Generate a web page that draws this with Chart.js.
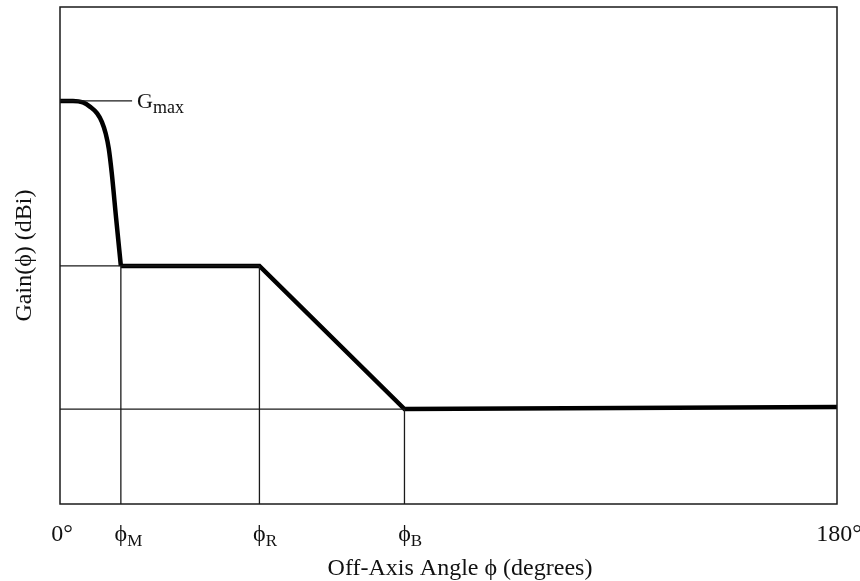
<!DOCTYPE html>
<html>
<head>
<meta charset="utf-8">
<script src="https://cdn.jsdelivr.net/npm/chart.js@4.4.1/dist/chart.umd.min.js"></script>
<style>
  html, body { margin: 0; padding: 0; background: #fff; }
  #wrap { width: 860px; height: 581px; }
</style>
</head>
<body>
<div id="wrap"><canvas id="grafico" width="860" height="581"></canvas></div>
<script>
// off-axis angle (degrees) of the named points
const phiM = 14.1;
const phiR = 46.2;
const phiB = 79.8;

// gain levels (arbitrary units, 0..100 over the plot height)
const gMax = 81.1;
const gMid = 47.9;
const gLow = 19.1;
const gEnd = 19.5;

// main lobe roll-off
const lobeX = [0, 3.0, 5.3, 7.0, 8.6, 9.7, 10.6, 11.3, 12.0, 13.0, phiM];
const lobeY = [gMax, 81.1, 80.8, 79.9, 78.6, 76.9, 74.5, 71.5, 66.5, 57.5, gMid];

// straight part of the envelope
const envX = [phiM, phiR, phiB, 180];
const envY = [gMid, gMid, gLow, gEnd];

// tick labels: [value, main text, subscript]
const tickLabels = [
  [0, "0°", ""],
  [phiM, "ϕ", "M"],
  [phiR, "ϕ", "R"],
  [phiB, "ϕ", "B"],
  [180, "180°", ""]
];

function pontos(xs, ys) {
  return xs.map((x, i) => ({ x: x, y: ys[i] }));
}

const thin = { borderColor: "#1a1a1a", borderWidth: 1.3, pointRadius: 0, tension: 0, fill: false };

const datasets = [
  { ...thin, data: pontos([0, phiR], [gMid, gMid]) },
  { ...thin, data: pontos([0, phiB], [gLow, gLow]) },
  { ...thin, data: pontos([phiM, phiM], [0, gMid]) },
  { ...thin, data: pontos([phiR, phiR], [0, gMid]) },
  { ...thin, data: pontos([phiB, phiB], [0, gLow]) },
  { ...thin, data: pontos([0, 16.7], [gMax, gMax]) },
  {
    data: pontos(lobeX, lobeY),
    borderColor: "#000", borderWidth: 4.5, pointRadius: 0,
    cubicInterpolationMode: "monotone", fill: false
  },
  {
    data: pontos(envX, envY),
    borderColor: "#000", borderWidth: 4.5, pointRadius: 0,
    tension: 0, fill: false, borderJoinStyle: "miter"
  }
];

const serif = '"Liberation Serif", "DejaVu Serif", serif';

const textos = {
  id: "textos",
  afterDraw(chart) {
    const ctx = chart.ctx;
    const area = chart.chartArea;
    const xs = chart.scales.x;
    const ys = chart.scales.y;

    ctx.save();
    // frame
    ctx.strokeStyle = "#1a1a1a";
    ctx.lineWidth = 1.5;
    ctx.strokeRect(area.left, area.top, area.right - area.left, area.bottom - area.top);

    ctx.fillStyle = "#111";
    ctx.textBaseline = "alphabetic";

    // x tick labels
    tickLabels.forEach(([v, main, sub]) => {
      const px = xs.getPixelForValue(v);
      ctx.font = "24px " + serif;
      const w = ctx.measureText(main).width;
      if (sub) {
        ctx.textAlign = "left";
        ctx.fillText(main, px - w / 2, 541);
        ctx.font = "17px " + serif;
        ctx.fillText(sub, px + w / 2, 546);
      } else {
        ctx.textAlign = "center";
        ctx.fillText(main, px + 2, 541);
      }
    });

    // Gmax label
    const gy = ys.getPixelForValue(gMax);
    ctx.textAlign = "left";
    ctx.font = "22px " + serif;
    ctx.fillText("G", 137, gy + 7);
    const gw = ctx.measureText("G").width;
    ctx.font = "18px " + serif;
    ctx.fillText("max", 137 + gw, gy + 12);

    // axis titles
    ctx.font = "24px " + serif;
    ctx.textAlign = "center";
    ctx.fillText("Off-Axis Angle ϕ (degrees)", 460, 575);

    ctx.translate(31, (area.top + area.bottom) / 2);
    ctx.rotate(-Math.PI / 2);
    ctx.fillText("Gain(ϕ) (dBi)", 0, 0);
    ctx.restore();
  }
};

new Chart(document.getElementById("grafico"), {
  type: "line",
  data: { datasets },
  options: {
    responsive: false,
    animation: false,
    layout: { padding: { left: 60, right: 23, top: 7, bottom: 77 } },
    plugins: { legend: { display: false }, tooltip: { enabled: false } },
    scales: {
      x: { type: "linear", min: 0, max: 180, display: false },
      y: { type: "linear", min: 0, max: 100, display: false }
    }
  },
  plugins: [textos]
});
</script>
</body>
</html>
